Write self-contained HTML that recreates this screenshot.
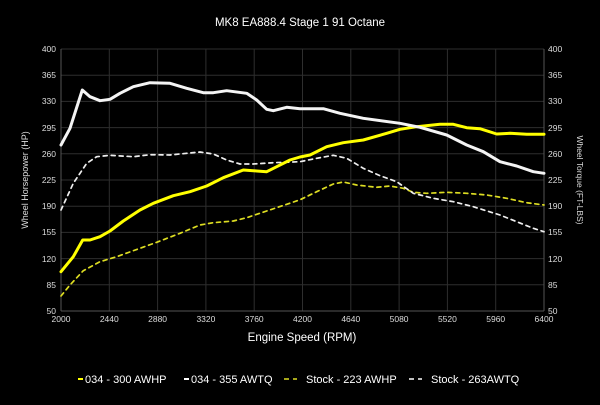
<!DOCTYPE html>
<html><head><style>
html,body{margin:0;padding:0;background:#000;}
svg{display:block;font-family:"Liberation Sans",sans-serif;}
</style></head><body>
<svg width="600" height="405" viewBox="0 0 600 405" xmlns="http://www.w3.org/2000/svg">
<rect width="600" height="405" fill="#000"/>
<text x="300" y="26" fill="#fff" font-size="11.5" text-anchor="middle">MK8 EA888.4 Stage 1 91 Octane</text>
<g stroke="#2e2e2e" stroke-width="1">
<line x1="61" y1="49" x2="544" y2="49"/><line x1="61" y1="75.2" x2="544" y2="75.2"/><line x1="61" y1="101.4" x2="544" y2="101.4"/><line x1="61" y1="127.6" x2="544" y2="127.6"/><line x1="61" y1="153.8" x2="544" y2="153.8"/><line x1="61" y1="180" x2="544" y2="180"/><line x1="61" y1="206.2" x2="544" y2="206.2"/><line x1="61" y1="232.4" x2="544" y2="232.4"/><line x1="61" y1="258.6" x2="544" y2="258.6"/><line x1="61" y1="284.8" x2="544" y2="284.8"/>
<line x1="109.3" y1="49" x2="109.3" y2="311"/><line x1="157.6" y1="49" x2="157.6" y2="311"/><line x1="205.9" y1="49" x2="205.9" y2="311"/><line x1="254.2" y1="49" x2="254.2" y2="311"/><line x1="302.5" y1="49" x2="302.5" y2="311"/><line x1="350.8" y1="49" x2="350.8" y2="311"/><line x1="399.1" y1="49" x2="399.1" y2="311"/><line x1="447.4" y1="49" x2="447.4" y2="311"/><line x1="495.7" y1="49" x2="495.7" y2="311"/>
</g>
<g stroke="#555" stroke-width="1"><line x1="61" y1="49" x2="61" y2="311"/><line x1="544" y1="49" x2="544" y2="311"/><line x1="61" y1="311" x2="544" y2="311"/></g>
<g fill="#ddd" font-size="8.5" text-anchor="end">
<text x="56" y="52">400</text><text x="56" y="78">365</text><text x="56" y="104">330</text><text x="56" y="131">295</text><text x="56" y="157">260</text><text x="56" y="183">225</text><text x="56" y="209">190</text><text x="56" y="235">155</text><text x="56" y="262">120</text><text x="56" y="288">85</text><text x="56" y="314">50</text>
</g>
<g fill="#ddd" font-size="8.5" text-anchor="start">
<text x="548" y="52">400</text><text x="548" y="78">365</text><text x="548" y="104">330</text><text x="548" y="131">295</text><text x="548" y="157">260</text><text x="548" y="183">225</text><text x="548" y="209">190</text><text x="548" y="235">155</text><text x="548" y="262">120</text><text x="548" y="288">85</text><text x="548" y="314">50</text>
</g>
<g fill="#ddd" font-size="8.5" text-anchor="middle">
<text x="61" y="322">2000</text><text x="109.3" y="322">2440</text><text x="157.6" y="322">2880</text><text x="205.9" y="322">3320</text><text x="254.2" y="322">3760</text><text x="302.5" y="322">4200</text><text x="350.8" y="322">4640</text><text x="399.1" y="322">5080</text><text x="447.4" y="322">5520</text><text x="495.7" y="322">5960</text><text x="544" y="322">6400</text>
</g>
<text x="302" y="341" fill="#fff" font-size="11.5" text-anchor="middle">Engine Speed (RPM)</text>
<text transform="translate(28,180) rotate(-90)" fill="#ddd" font-size="9" text-anchor="middle">Wheel Horsepower (HP)</text>
<text transform="translate(577,180) rotate(90)" fill="#ddd" font-size="8.5" text-anchor="middle">Wheel Torque (FT-LBS)</text>
<g fill="none" stroke-linejoin="round" stroke-linecap="round">
<polyline stroke="#dddd22" stroke-width="1.7" stroke-dasharray="4,4" points="61,296 70,285 83.3,270.7 100,261.7 116.7,256.7 133.3,250.7 156.7,242.3 180,233.3 200,225 213.3,222.7 233.3,221 246.7,217.7 266.7,211 286.7,204.3 300,199.8 316.7,191.7 333.3,184 343.3,182 356.7,185 376.7,187.3 390,186 403.3,188.3 413.3,192.3 426.7,193.3 446.7,192.3 466.7,193.3 486.7,195 506.7,198.3 526.7,202.7 544,205"/>
<polyline stroke="#eee" stroke-width="1.7" stroke-dasharray="4,4" points="61,210 73.3,183.3 86.7,163.3 96.7,156.7 110,155.3 133.3,156.7 150,154.7 170,155 186.7,153.3 200,152 213.3,154 226.7,160 240,164 253.3,164 273.3,162.7 300,161.7 316.7,158.3 333.3,155.3 346.7,158.3 363.3,168.3 380,175.7 396.7,181.7 413.3,193.3 433.3,198.3 453.3,201.7 473.3,206.7 500,215 516.7,221.7 533.3,228.3 544,231.7"/>
<polyline stroke="#ffff00" stroke-width="3" points="61,271.7 73.3,256.7 82.7,240 90,240 100,236.7 110,231 123.3,221 140,210 153.3,203.3 173.3,195.7 190,191.7 206.7,186 223.3,177.7 243.3,170 256.7,171 266.7,171.7 276.7,166.7 290,160 300,157 310,155 326.7,146.7 343.3,142.7 363.3,140 386.7,133.3 400,129.3 416.7,126.7 440,124.3 453.3,124.3 466.7,127.7 480,128.7 496.7,134 510,133.3 526.7,134.3 544,134.3"/>
<polyline stroke="#f4f4f4" stroke-width="3" points="61,145 70,128.3 82.3,90 90,96.7 100,100.7 110,99.3 120,93.3 133.3,86.7 150,82.7 170,83.3 186.7,88.3 203.3,92.7 213.3,92.7 226.7,90.7 246.7,93.3 256.7,100 266.7,109.3 273.3,110.7 286.7,107.3 300,108.7 323.3,108.7 340,113.3 363.3,118.3 400,123.3 420,127.3 446.7,135 466.7,145 483.3,151.7 500,161.7 516.7,166 533.3,171.7 544,173.3"/>
</g>
<g font-size="11" fill="#fff">
<line x1="78" y1="379" x2="83" y2="379" stroke="#ffff00" stroke-width="2"/>
<text x="85" y="383">034 - 300 AWHP</text>
<line x1="184" y1="379" x2="189" y2="379" stroke="#fff" stroke-width="2"/>
<text x="191" y="383">034 - 355 AWTQ</text>
<line x1="284" y1="379" x2="289" y2="379" stroke="#dddd22" stroke-width="1.5"/>
<line x1="293" y1="379" x2="297" y2="379" stroke="#dddd22" stroke-width="1.5"/>
<text x="306" y="383">Stock - 223 AWHP</text>
<line x1="409" y1="379" x2="414" y2="379" stroke="#fff" stroke-width="1.5"/>
<line x1="418" y1="379" x2="422" y2="379" stroke="#fff" stroke-width="1.5"/>
<text x="431" y="383">Stock - 263AWTQ</text>
</g>
</svg>
</body></html>
